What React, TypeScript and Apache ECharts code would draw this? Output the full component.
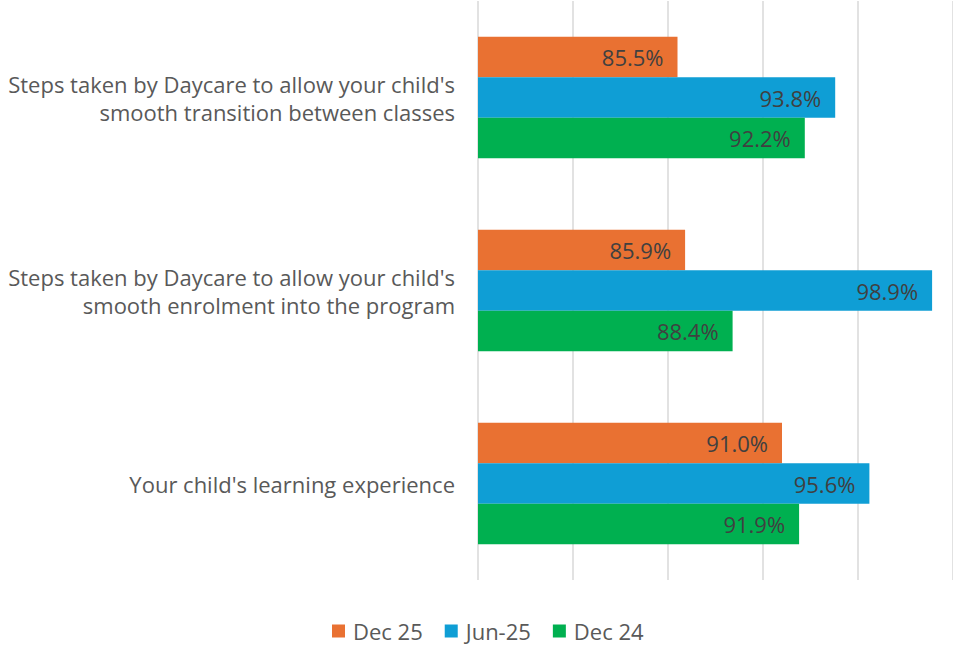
import React, { useEffect, useRef } from "react";
import * as echarts from "echarts";

const categories = [
  "Steps taken by Daycare to allow your child's\nsmooth transition between classes",
  "Steps taken by Daycare to allow your child's\nsmooth enrolment into the program",
  "Your child's learning experience",
];
const seriesNames = ["Dec 25", "Jun-25", "Dec 24"];
const dec25 = [85.5, 85.9, 91.0];
const jun25 = [93.8, 98.9, 95.6];
const dec24 = [92.2, 88.4, 91.9];
const colors = ["#E97132", "#0F9ED5", "#00B050"];

export default function App() {
  const ref = useRef<HTMLDivElement>(null);
  useEffect(() => {
    if (!ref.current) return;
    const chart = echarts.init(ref.current, undefined, { renderer: "svg" });
    const font = "'Open Sans', sans-serif";
    const mk = (name: string, data: number[], color: string) => ({
      name,
      type: "bar",
      data,
      barGap: "0%",
      barCategoryGap: "37%",
      itemStyle: { color },
      label: {
        show: true,
        position: "insideRight",
        distance: 14,
        formatter: (p: any) => p.value.toFixed(1) + "%",
        color: "#404040",
        fontSize: 22,
        fontFamily: font,
      },
    });
    chart.setOption({
      animation: false,
      textStyle: { fontFamily: font },
      color: colors,
      grid: { left: 478, top: 1, width: 475, height: 579, containLabel: false },
      legend: {
        bottom: 2,
        left: 327,
        icon: "rect",
        itemWidth: 13,
        itemHeight: 13,
        itemGap: 22,
        data: seriesNames,
        textStyle: {
          color: "#595959",
          fontSize: 22,
          fontFamily: font,
          padding: [0, 0, 0, 3],
        },
      },
      xAxis: {
        type: "value",
        min: 75,
        max: 100,
        interval: 5,
        axisLabel: { show: false },
        axisLine: { show: false },
        axisTick: { show: false },
        splitLine: { show: true, lineStyle: { color: "#D9D9D9", width: 1.5 } },
      },
      yAxis: {
        type: "category",
        inverse: true,
        data: categories,
        axisLine: { show: false },
        axisTick: { show: false },
        axisLabel: {
          margin: 23,
          color: "#595959",
          fontSize: 22,
          lineHeight: 28,
          align: "right",
          fontFamily: font,
        },
      },
      series: [
        mk(seriesNames[0], dec25, colors[0]),
        mk(seriesNames[1], jun25, colors[1]),
        mk(seriesNames[2], dec24, colors[2]),
      ],
    });
    return () => chart.dispose();
  }, []);
  return (
    <div
      ref={ref}
      style={{ position: "absolute", left: 0, top: 0, width: 953, height: 649 }}
    />
  );
}
